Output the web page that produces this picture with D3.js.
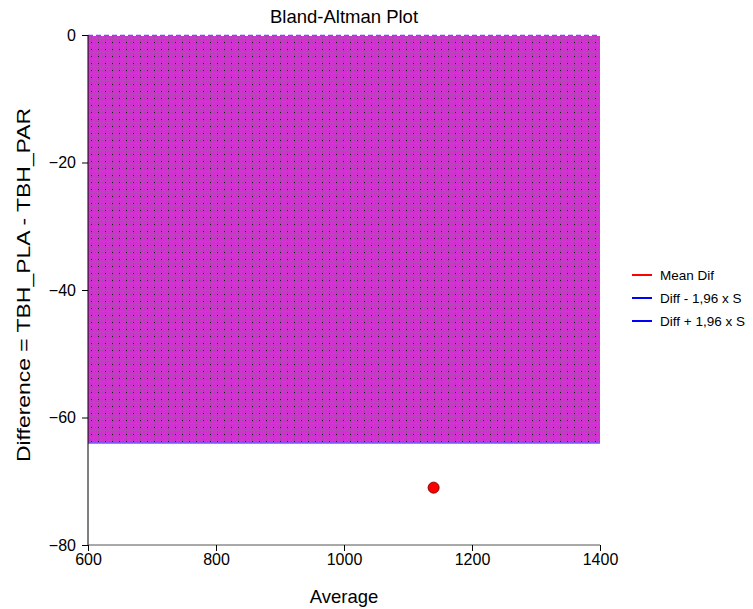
<!DOCTYPE html>
<html><head><meta charset="utf-8">
<script src="https://cdn.jsdelivr.net/npm/d3@7"></script>
<style>body{margin:0;background:#fff;} text{font-family:"Liberation Sans",Arial,sans-serif;}</style>
</head><body>
<svg id="c" width="753" height="609"></svg>
<script>
const xTicks = [600, 800, 1000, 1200, 1400];
const yTicks = [0, -20, -40, -60, -80];
const limitUpper = -0.2;
const limitLower = -64;
const meanDif = -32.1;
const pointAvg = [1140];
const pointDiff = [-71];
const legendLabels = ["Mean Dif", "Diff - 1,96 x S", "Diff + 1,96 x S"];
const legendColors = ["#ff0000", "#0000ff", "#0000ff"];

const svg = d3.select("#c");
const x = d3.scaleLinear().domain([600, 1400]).range([88, 600]);
const y = d3.scaleLinear().domain([-80, 0]).range([545, 35]);

const defs = svg.append("defs");
const pat = defs.append("pattern").attr("id","hatch").attr("patternUnits","userSpaceOnUse")
  .attr("width",7).attr("height",7).attr("x",0).attr("y",0);
pat.append("rect").attr("width",7).attr("height",7).attr("fill","#d232d2");
pat.append("rect").attr("x",0).attr("y",0).attr("width",1).attr("height",7).attr("fill","#b040b0");
pat.append("rect").attr("x",0).attr("y",3).attr("width",7).attr("height",1).attr("fill","#b848b8");
pat.append("rect").attr("x",4).attr("y",0).attr("width",1).attr("height",1).attr("fill","#8a5a8a");
pat.append("rect").attr("x",0).attr("y",0).attr("width",1).attr("height",1).attr("fill","#1a1a1a");

// band
svg.append("rect").attr("x", x(600)).attr("y", y(limitUpper))
  .attr("width", x(1400)-x(600)).attr("height", y(limitLower)-y(limitUpper))
  .attr("fill","url(#hatch)").attr("shape-rendering","crispEdges");

// mean line (hidden under band in the original)
svg.append("line").attr("x1",x(600)).attr("x2",x(1400)).attr("y1",y(meanDif)).attr("y2",y(meanDif))
  .attr("stroke","#ff0000").attr("stroke-opacity",0);

// limit lines
svg.append("line").attr("x1",x(600)).attr("x2",x(1400)).attr("y1",y(limitLower)).attr("y2",y(limitLower))
  .attr("stroke","#6a5cff").attr("stroke-width",1.5);
svg.append("line").attr("x1",x(600)).attr("x2",x(1400)).attr("y1",y(limitUpper)-1).attr("y2",y(limitUpper)-1)
  .attr("stroke","#5a5aff").attr("stroke-width",1.2).attr("stroke-dasharray","5,3");

// axes
const yAxis = d3.axisLeft(y).tickValues(yTicks).tickSize(6).tickPadding(6).tickFormat(d3.format("d"));
const gy = svg.append("g").attr("transform","translate(88,0)").call(yAxis);
gy.select(".domain").attr("stroke","#000").attr("d","M0,35V545");
gy.selectAll(".tick line").attr("stroke","#000");
gy.selectAll("text").attr("font-size",16).attr("fill","#000");

const xAxis = d3.axisBottom(x).tickValues(xTicks).tickSize(6).tickPadding(3).tickFormat(d3.format("d"));
const gx = svg.append("g").attr("transform","translate(0,545)").call(xAxis);
gx.select(".domain").attr("stroke","#555").attr("d","M88,0H600");
gx.selectAll(".tick line").attr("stroke","#000");
gx.selectAll("text").attr("font-size",16).attr("fill","#000");

// points
svg.selectAll("circle.pt").data(pointAvg.map((a,i)=>({a, d:pointDiff[i]}))).enter()
  .append("circle").attr("class","pt").attr("cx",d=>x(d.a)).attr("cy",d=>y(d.d)).attr("r",5.5)
  .attr("fill","#ff0000").attr("stroke","#880000").attr("stroke-width",1);

// titles
svg.append("text").attr("x",344).attr("y",23).attr("text-anchor","middle").attr("font-size",18.5).text("Bland-Altman Plot");
svg.append("text").attr("x",344).attr("y",603).attr("text-anchor","middle").attr("font-size",18.5).text("Average");
svg.append("text").attr("transform","translate(30,285) rotate(-90)").attr("text-anchor","middle").attr("font-size",19)
  .attr("textLength",354).attr("lengthAdjust","spacingAndGlyphs")
  .text("Difference = TBH_PLA - TBH_PAR");

// legend
const lg = svg.append("g");
legendLabels.forEach((l,i)=>{
  const yy = 275 + i*23;
  lg.append("line").attr("x1",632).attr("x2",652).attr("y1",yy).attr("y2",yy).attr("stroke",legendColors[i]).attr("stroke-width",2);
  lg.append("text").attr("x",660).attr("y",yy+4.5).attr("font-size",13.5).text(l);
});
</script>
</body></html>
